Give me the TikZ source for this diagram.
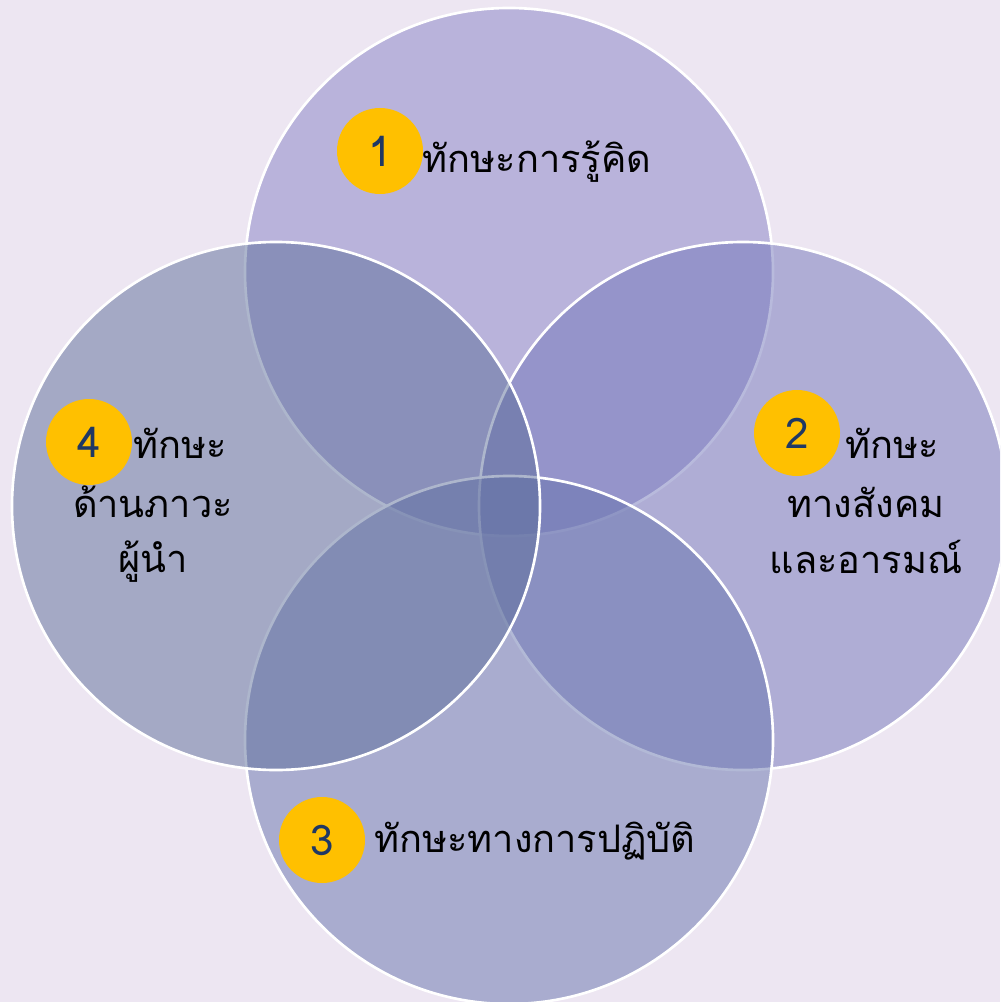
\documentclass[tikz,border=0pt]{standalone}
\usepackage{fontspec}
\newfontfamily\thaifont[Script=Thai]{Loma}
\definecolor{bgcol}{HTML}{EDE6F2}
\definecolor{ctop}{HTML}{8782C6}
\definecolor{cright}{HTML}{7376BA}
\definecolor{cbot}{HTML}{6774AE}
\definecolor{cleft}{HTML}{5D6E9A}
\definecolor{badgeyellow}{HTML}{FFC000}
\definecolor{numnavy}{HTML}{1F3864}
\begin{document}
\begin{tikzpicture}[x=0.2mm,y=-0.2mm,
  venn/.style={circle, minimum size=105.6mm, inner sep=0pt, draw=white, line width=1.5pt, fill opacity=0.5},
  badge/.style={circle, fill=badgeyellow, minimum size=17.2mm, inner sep=0pt,
    font=\thaifont\fontsize{24}{28}\selectfont, text=numnavy},
  lbl/.style={font=\thaifont\fontsize{21.6}{25}\selectfont, text=black, inner sep=0pt, anchor=base}]
\useasboundingbox (0,0) rectangle (1000,1002);
\fill[bgcol] (0,0) rectangle (1000,1002);
\clip (0,0) rectangle (1000,1002);
\node[venn, fill=ctop] (ctop) at (509,272) {};
\node[venn, fill=cright] (cright) at (743,506) {};
\node[venn, fill=cbot] (cbot) at (509,740) {};
\node[venn, fill=cleft] (cleft) at (276,506) {};
% badges
\node[badge] (b1) at (380,151) {1};
\node[badge] (b2) at (797,433) {2};
\node[badge] (b3) at (322,840) {3};
\node[badge] (b4) at (89,442) {4};
% labels
\node[lbl] (t1) at (537,173) {ทักษะการรู้คิด};
\node[lbl] (t2a) at (892,458) {ทักษะ};
\node[lbl] (t2b) at (866,517) {ทางสังคม};
\node[lbl] (t2c) at (866,573) {และอารมณ์};
\node[lbl] (t4a) at (180,458) {ทักษะ};
\node[lbl] (t4b) at (153,517) {ด้านภาวะ};
\node[lbl] (t4c) at (153,572) {ผู้นำ};
\node[lbl] (t3) at (535,852) {ทักษะทางการปฏิบัติ};
\end{tikzpicture}
\end{document}
